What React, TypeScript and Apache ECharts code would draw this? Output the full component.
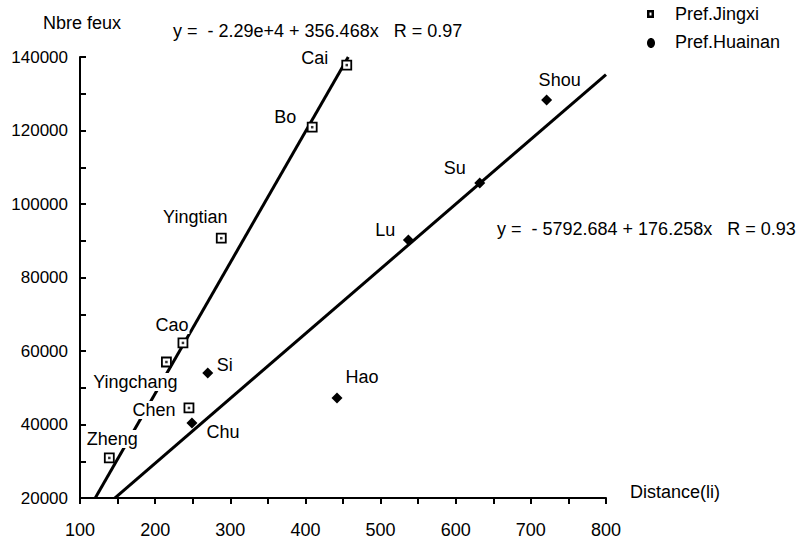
import React, { useEffect, useRef } from "react";
import * as echarts from "echarts";

// ---- data ----
const jingxiNames = ["Cai", "Bo", "Yingtian", "Cao", "Yingchang", "Chen", "Zheng"];
const jingxiDistance = [455, 409, 288, 237, 215, 245, 139];
const jingxiFeux = [137800, 120900, 90700, 62200, 57000, 44500, 30900];

const huainanNames = ["Shou", "Su", "Lu", "Hao", "Si", "Chu"];
const huainanDistance = [721, 632, 537, 442, 270, 249];
const huainanFeux = [128300, 105700, 90200, 47200, 54000, 40400];

// regression fits (from the printed equations)
const jingxiIntercept = -22900;
const jingxiSlope = 356.468;
const jingxiFitX = [120.3, 457];
const huainanIntercept = -5792.684;
const huainanSlope = 176.258;
const huainanFitX = [146.3, 800];

// axes: ticks every half step, labels every full step
const xTicks = { min: 100, max: 800, tick: 50, label: 100 };
const yTicks = { min: 20000, max: 140000, tick: 10000, label: 20000 };

const eqJingxi = "y =  - 2.29e+4 + 356.468x   R = 0.97";
const eqHuainan = "y =  - 5792.684 + 176.258x   R = 0.93";
const legendNames = ["Pref.Jingxi", "Pref.Huainan"];
const yName = "Nbre feux";
const xName = "Distance(li)";

// label placement relative to marker (layout, not data)
const labelOffset: Record<string, [number, number]> = {
  Cai: [-32, -7],
  Bo: [-27, -10],
  Yingtian: [-26, -21],
  Cao: [-11, -18],
  Yingchang: [-31, 20],
  Chen: [-35, 2],
  Zheng: [3, -19],
  Si: [17, -8],
  Chu: [31, 9],
  Hao: [25, -21],
  Shou: [13, -20],
  Su: [-25, -15],
  Lu: [-23, -10],
};

const FONT = '"Liberation Sans", Arial, Helvetica, sans-serif';

export default function App() {
  const ref = useRef<HTMLDivElement>(null);
  useEffect(() => {
    document.body.style.margin = "0";
    const chart = echarts.init(ref.current!, null, { renderer: "svg" });

    const mkPoints = (names: string[], xs: number[], ys: number[], withLabel: boolean) =>
      names.map((n, i) => ({
        name: n,
        value: [xs[i], ys[i]],
        label: withLabel ? { offset: labelOffset[n] } : undefined,
      }));

    const fit = (xs: number[], a: number, b: number) => xs.map((x) => [x, a + b * x]);

    const labelStyle = {
      show: true,
      position: "inside",
      formatter: "{b}",
      color: "#000",
      fontSize: 18,
      fontFamily: FONT,
      backgroundColor: "#fff",
      padding: [0, 1],
    };

    chart.setOption({
      animation: false,
      textStyle: { fontFamily: FONT },
      grid: { left: 80, top: 57, right: 196, bottom: 42 },
      xAxis: {
        type: "value",
        min: xTicks.min,
        max: xTicks.max,
        interval: xTicks.tick,
        axisLine: { show: true, onZero: false, lineStyle: { color: "#000", width: 2 } },
        axisTick: { show: true, length: 6, lineStyle: { color: "#000", width: 2 } },
        splitLine: { show: false },
        axisLabel: {
          color: "#000",
          fontSize: 18,
          margin: 23,
          fontFamily: FONT,
          formatter: (v: number) => ((v - xTicks.min) % xTicks.label === 0 ? String(v) : ""),
        },
      },
      yAxis: {
        type: "value",
        min: yTicks.min,
        max: yTicks.max,
        interval: yTicks.tick,
        axisLine: { show: true, onZero: false, lineStyle: { color: "#000", width: 2 } },
        axisTick: { show: true, inside: true, length: 6, lineStyle: { color: "#000", width: 2 } },
        splitLine: { show: false },
        axisLabel: {
          color: "#000",
          fontSize: 17,
          margin: 12,
          fontFamily: FONT,
          formatter: (v: number) => ((v - yTicks.min) % yTicks.label === 0 ? String(v) : ""),
        },
      },
      series: [
        {
          type: "line",
          z: 1,
          data: fit(jingxiFitX, jingxiIntercept, jingxiSlope),
          symbol: "none",
          lineStyle: { color: "#000", width: 3 },
          silent: true,
        },
        {
          type: "line",
          z: 1,
          data: fit(huainanFitX, huainanIntercept, huainanSlope),
          symbol: "none",
          lineStyle: { color: "#000", width: 3 },
          silent: true,
        },
        {
          name: legendNames[0],
          type: "scatter",
          z: 3,
          symbol: "rect",
          symbolSize: 9,
          itemStyle: { color: "#fff", borderColor: "#000", borderWidth: 1.8, opacity: 1 },
          label: labelStyle,
          data: mkPoints(jingxiNames, jingxiDistance, jingxiFeux, true),
        },
        {
          type: "scatter",
          z: 4,
          symbol: "rect",
          symbolSize: 2.5,
          itemStyle: { color: "#000" },
          silent: true,
          data: mkPoints(jingxiNames, jingxiDistance, jingxiFeux, false),
        },
        {
          name: legendNames[1],
          type: "scatter",
          z: 3,
          symbol: "diamond",
          symbolSize: 11,
          itemStyle: { color: "#000", opacity: 1 },
          label: labelStyle,
          data: mkPoints(huainanNames, huainanDistance, huainanFeux, true),
        },
      ],
      graphic: [
        {
          type: "text",
          left: 43,
          top: 14,
          style: { text: yName, fontSize: 18, fontFamily: FONT, fill: "#000" },
        },
        {
          type: "text",
          left: 173,
          top: 22,
          style: { text: eqJingxi, fontSize: 18, fontFamily: FONT, fill: "#000" },
        },
        {
          type: "text",
          left: 497,
          top: 220,
          style: { text: eqHuainan, fontSize: 18, fontFamily: FONT, fill: "#000" },
        },
        {
          type: "text",
          left: 630,
          top: 483,
          style: { text: xName, fontSize: 18, fontFamily: FONT, fill: "#000" },
        },
        {
          type: "rect",
          shape: { x: 647, y: 10, width: 7, height: 8 },
          style: { fill: "#000" },
        },
        {
          type: "rect",
          shape: { x: 649.5, y: 12.5, width: 2, height: 3 },
          style: { fill: "#fff" },
        },
        {
          type: "ellipse",
          shape: { cx: 651, cy: 43, rx: 4, ry: 5 },
          style: { fill: "#000" },
        },
        {
          type: "text",
          left: 675,
          top: 5,
          style: { text: legendNames[0], fontSize: 18, fontFamily: FONT, fill: "#000" },
        },
        {
          type: "text",
          left: 675,
          top: 33,
          style: { text: legendNames[1], fontSize: 18, fontFamily: FONT, fill: "#000" },
        },
      ],
    });
    return () => chart.dispose();
  }, []);
  return <div ref={ref} style={{ width: 802, height: 540 }} />;
}
